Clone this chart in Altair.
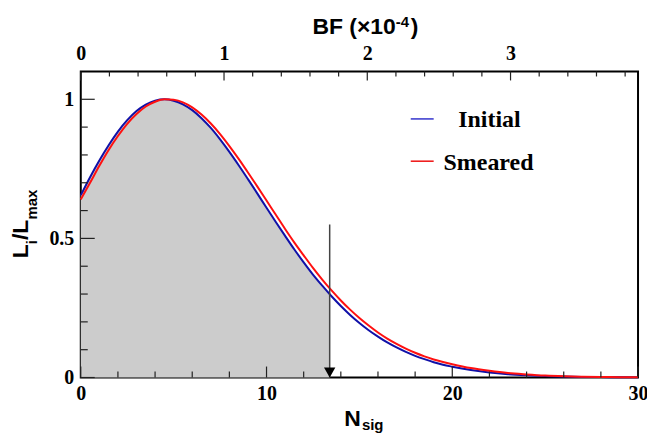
import altair as alt
import pandas as pd

# ---- data ----
n_sig = [0, 0.5, 1, 1.5, 2, 2.5, 3, 3.5, 4, 4.5, 5, 5.5, 6, 6.5, 7, 7.5, 8, 8.5, 9, 9.5,
         10, 10.5, 11, 11.5, 12, 12.5, 13, 13.5, 14, 14.5, 15, 15.5, 16, 16.5, 17, 17.5,
         18, 18.5, 19, 19.5, 20, 21, 22, 23, 24, 25, 26, 27, 28, 29, 30]
initial = [0.655, 0.720, 0.780, 0.835, 0.884, 0.925, 0.958, 0.981, 0.995, 1.000,
           0.995, 0.982, 0.961, 0.932, 0.897, 0.856, 0.811, 0.763, 0.713, 0.662,
           0.610, 0.559, 0.509, 0.460, 0.414, 0.370, 0.330, 0.292, 0.257, 0.225,
           0.196, 0.170, 0.147, 0.126, 0.108, 0.092, 0.078, 0.066, 0.055, 0.046,
           0.039, 0.027, 0.018, 0.012, 0.008, 0.005, 0.0034, 0.0022, 0.0014, 0.0009, 0.0005]
smeared = [0.640, 0.700, 0.761, 0.818, 0.868, 0.912, 0.947, 0.974, 0.991, 1.000,
           0.998, 0.989, 0.971, 0.945, 0.913, 0.875, 0.832, 0.786, 0.737, 0.687,
           0.636, 0.585, 0.534, 0.485, 0.439, 0.394, 0.352, 0.313, 0.277, 0.244,
           0.214, 0.187, 0.162, 0.140, 0.121, 0.104, 0.089, 0.076, 0.065, 0.056,
           0.048, 0.034, 0.024, 0.016, 0.011, 0.007, 0.0045, 0.003, 0.0019, 0.0012, 0.0007]

limit_n = 13.4          # arrow / upper limit position
limit_value = 0.298     # initial curve value at the limit
arrow_top = 0.55
bf_max = 3.89           # BF (x1e-4) at right edge of the frame

x_major = [0, 10, 20, 30]
x_minor = [2, 4, 6, 8, 12, 14, 16, 18, 22, 24, 26, 28]
y_major = [0, 0.5, 1]
y_minor = [0.1, 0.2, 0.3, 0.4, 0.6, 0.7, 0.8, 0.9]
bf_major = [0, 1, 2, 3]
bf_minor = [0.2, 0.4, 0.6, 0.8, 1.2, 1.4, 1.6, 1.8, 2.2, 2.4, 2.6, 2.8, 3.2, 3.4, 3.6, 3.8]

W, H = 559, 307
SERIF = "Liberation Serif"
SANS = "Liberation Sans"

curves = pd.DataFrame({"n": n_sig, "initial": initial, "smeared": smeared})
shade = pd.DataFrame({
    "n": [v for v in n_sig if v <= 13] + [limit_n],
    "L": [initial[i] for i, v in enumerate(n_sig) if v <= 13] + [limit_value],
})
arrow = pd.DataFrame({"n": [limit_n], "top": [arrow_top], "bot": [0.0]})

xs = alt.Scale(domain=[0, 30], nice=False, zero=False)
ys = alt.Scale(domain=[0, 1.1], nice=False)
xaxis = alt.Axis(values=x_major, format="d", title=None, labelPadding=6, labelFlush=False)
yaxis = alt.Axis(values=y_major, format="~g", title=None, labelPadding=7, labelFlush=False)


def X(field):
    return alt.X(field, type="quantitative", scale=xs, axis=xaxis)


def Y(field):
    return alt.Y(field, type="quantitative", scale=ys, axis=yaxis)


area = alt.Chart(shade).mark_area(color="#cccccc", interpolate="monotone").encode(
    x=X("n"), y=Y("L"))
blue = alt.Chart(curves).mark_line(color="#1010a8", strokeWidth=2, interpolate="monotone").encode(
    x=X("n"), y=Y("initial"))
red = alt.Chart(curves).mark_line(color="#ff1010", strokeWidth=2, interpolate="monotone").encode(
    x=X("n"), y=Y("smeared"))
arrow_line = alt.Chart(arrow).mark_rule(color="#444444", strokeWidth=1.5).encode(
    x=X("n"), y=Y("top"), y2="bot")
arrow_head = alt.Chart(arrow).mark_point(shape="triangle-down", filled=True, color="black",
                                         size=130, opacity=1, yOffset=-5).encode(
    x=X("n"), y=Y("bot"))


def xticks(vals, length):
    return alt.Chart(pd.DataFrame({"v": vals})).mark_rule(color="#222222", strokeWidth=1.2).encode(
        x=X("v"), y=alt.value(H), y2=alt.value(H - length))


def yticks(vals, length):
    return alt.Chart(pd.DataFrame({"v": vals})).mark_rule(color="#222222", strokeWidth=1.2).encode(
        y=Y("v"), x=alt.value(0), x2=alt.value(length))


def txt(s, x, y, size, font, align="left", angle=0):
    return alt.Chart(pd.DataFrame({"t": [s]})).mark_text(
        align=align, baseline="alphabetic", font=font, fontWeight="bold",
        fontSize=size, color="black", angle=angle).encode(
        text="t:N", x=alt.value(x), y=alt.value(y))


def legline(y, color):
    return alt.Chart(pd.DataFrame({"t": [0]})).mark_rule(color=color, strokeWidth=1.5).encode(
        x=alt.value(331), x2=alt.value(354), y=alt.value(y))


inner = alt.layer(
    area, blue, red, arrow_line, arrow_head,
    xticks(x_major, 11), xticks(x_minor, 6),
    yticks(y_major, 14), yticks(y_minor, 7),
    legline(47.6, "#3333cc"), legline(90, "#ee1111"),
    txt("Initial", 410, 56, 24, SERIF, align="center"),
    txt("Smeared", 409, 99.3, 24, SERIF, align="center"),
    # x title N_sig
    txt("N", 281, 355.3, 23, SANS, align="right"),
    txt("sig", 282, 359.3, 15, SANS),
    # top title BF (x10^-4)
    txt("BF (×10", 316, -37.4, 23, SANS, align="right"),
    txt("-4", 316, -45, 15, SANS),
    txt(")", 331, -37.4, 23, SANS),
    # y title L_i/L_max (rotated)
    txt("L", -53, 187.3, 23, SANS, angle=270),
    txt("i", -44, 173.3, 15, SANS, angle=270),
    txt("/", -53, 169, 23, SANS, angle=270),
    txt("L", -53, 162.7, 23, SANS, angle=270),
    txt("max", -44, 148.6, 15, SANS, angle=270),
)

bs = alt.Scale(domain=[0, bf_max], nice=False, zero=False)
baxis = alt.Axis(orient="top", values=bf_major, format="d", title=None, labelPadding=8,
                 labelFlush=False)


def bticks(vals, length):
    return alt.Chart(pd.DataFrame({"v": vals})).mark_rule(color="#222222", strokeWidth=1.2).encode(
        x=alt.X("v:Q", scale=bs, axis=baxis), y=alt.value(0), y2=alt.value(length))


top = alt.layer(bticks(bf_major, 9), bticks(bf_minor, 5))

chart = alt.layer(inner, top).resolve_scale(x="independent").properties(
    width=W, height=H,
    autosize=alt.AutoSizeParams(type="none"),
    padding={"left": 73, "top": 63, "right": 9, "bottom": 58},
).configure_view(stroke="black", strokeWidth=2).configure_axis(
    ticks=False, domain=False, grid=False,
    labelFont=SERIF, labelFontWeight="bold", labelFontSize=20, labelColor="black",
)

chart.save("out.html", embed_options={"renderer": "svg", "actions": False})
